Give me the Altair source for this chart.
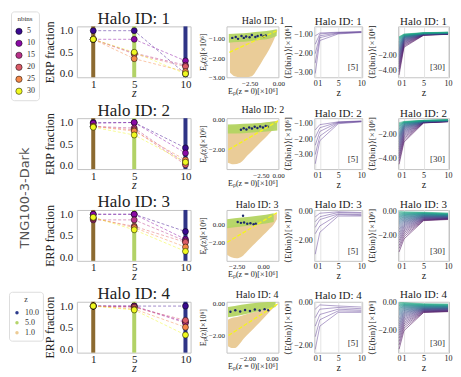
import altair as alt
import pandas as pd

SERIF = "Liberation Serif"

# ---------------- data ----------------
halo_ids = [1, 2, 3, 4]
z_snap = [1, 5, 10]
nbins_list = [5, 10, 15, 20, 25, 30]
z_legend = ["10.0", "5.0", "1.0"]
z_line = [0, 1, 5, 10]
label_left = "TNG100-3-Dark"

# ERP fraction per halo: one list per nbins, values at z = 1, 5, 10
erp_h1 = [[1.0, 1.0, 0.0], [0.8, 0.8, 0.30], [0.8, 0.48, 0.20], [0.8, 0.46, 0.17], [0.8, 0.35, 0.05], [0.8, 0.50, 0.0]]
erp_h2 = [[1.0, 1.0, 0.41], [0.98, 1.0, 0.29], [0.91, 0.87, 0.06], [0.91, 0.83, 0.02], [0.91, 0.80, 0.13], [0.89, 0.71, 0.08]]
erp_h3 = [[1.0, 1.0, 0.60], [1.0, 1.0, 0.42], [0.87, 0.87, 0.38], [0.90, 0.72, 0.35], [0.92, 0.69, 0.24], [0.93, 0.64, 0.14]]
erp_h4 = [[1.0, 1.0, 1.0], [1.0, 1.0, 0.63], [1.0, 0.99, 0.61], [1.0, 0.97, 0.67], [1.0, 0.93, 0.51], [1.0, 0.91, 0.33]]
erp_frac = [erp_h1, erp_h2, erp_h3, erp_h4]

# scatter clouds (z=1 tan cloud, z=5 green band) as lower/upper envelopes
tan_x = [[-4.2, -3.8, -3.3, -2.8, -2.3, -1.8, -1.3, -0.8, -0.35, -0.1],
         [-7.3, -6.5, -5.5, -4.5, -3.5, -2.5, -1.5, -0.6, -0.05],
         [-3.4, -3.0, -2.5, -2.0, -1.5, -1.0, -0.5, 0.0, 0.5, 1.0, 1.3],
         [-3.6, -3.3, -3.0, -2.7, -2.3, -1.8, -1.3, -0.8, -0.3, 0.2, 0.5]]
tan_lo = [[-2.75, -2.95, -3.0, -3.0, -2.95, -2.55, -2.05, -1.55, -1.0, -0.6],
          [-2.85, -2.95, -2.85, -2.4, -1.95, -1.5, -1.05, -0.6, -0.2],
          [-3.4, -3.7, -3.8, -3.6, -3.0, -2.4, -1.8, -1.2, -0.6, 0.0, 0.6],
          [-2.7, -2.8, -2.8, -2.6, -2.2, -1.8, -1.4, -1.0, -0.6, -0.2, 0.0]]
tan_hi = [[-1.15, -1.1, -1.05, -1.0, -0.95, -0.9, -0.85, -0.75, -0.6, -0.5],
          [-0.5, -0.45, -0.4, -0.35, -0.3, -0.25, -0.2, -0.15, -0.1],
          [-0.2, -0.1, 0.0, 0.1, 0.2, 0.4, 0.6, 0.8, 1.0, 1.2, 1.3],
          [-1.0, -0.9, -0.85, -0.8, -0.7, -0.6, -0.5, -0.4, -0.3, -0.1, 0.05]]
green_x = [[-4.3, -3.5, -2.5, -1.5, -0.6, -0.15],
           [-7.3, -5.0, -2.5, -0.1],
           [-3.4, -2.0, -0.5, 1.0],
           [-3.6, -2.5, -1.0, 0.3]]
green_lo = [[-1.2, -1.17, -1.12, -1.05, -0.95, -0.85],
            [-0.95, -0.92, -0.85, -0.75],
            [-0.4, -0.2, 0.0, 0.3],
            [-0.85, -0.7, -0.45, -0.2]]
green_hi = [[-0.75, -0.72, -0.68, -0.62, -0.55, -0.5],
            [-0.35, -0.3, -0.25, -0.15],
            [0.6, 0.8, 1.0, 1.3],
            [-0.2, -0.05, 0.1, 0.14]]
navy_x = [[-4.0, -3.7, -3.5, -3.2, -3.0, -2.8, -2.5, -2.3, -2.0, -1.8, -1.5, -1.3, -1.1],
          [-5.4, -5.0, -4.6, -4.2, -3.8, -3.4, -3.0, -2.6, -2.2, -1.8, -1.5],
          [-2.4, -2.1, -1.8, -1.5, -1.2, -0.9, -0.7, -1.9],
          [-3.4, -3.0, -2.6, -2.2, -1.8, -1.4, -1.0, -0.6, -0.3]]
navy_y = [[-0.95, -0.9, -1.0, -0.85, -0.95, -0.88, -0.92, -0.8, -0.9, -0.85, -0.8, -0.88, -0.82],
          [-0.7, -0.6, -0.68, -0.55, -0.62, -0.5, -0.58, -0.48, -0.55, -0.45, -0.5],
          [0.3, 0.2, 0.25, 0.1, 0.15, 0.05, 0.1, 1.0],
          [-0.5, -0.4, -0.48, -0.38, -0.45, -0.35, -0.42, -0.33, -0.4]]
fit_x = [[-4.25, -0.17], [-7.2, 0.0], [-3.4, 1.44], [-3.55, 0.53]]
fit_y = [[-1.7, -0.59], [-2.0, -0.12], [-2.0, 1.45], [-2.0, 0.02]]

# <E(bin)> with 5 bins: one list per bin, values at z = 0, 1, 5, 10
mean5 = [
    [[-3.05, -1.3, -0.95, -0.88], [-2.5, -1.15, -0.92, -0.86], [-2.0, -1.05, -0.9, -0.85], [-1.5, -0.95, -0.88, -0.84], [-1.05, -0.9, -0.86, -0.83]],
    [[-3.6, -2.1, -1.0, -0.88], [-3.0, -1.8, -0.95, -0.86], [-2.4, -1.5, -0.92, -0.85], [-1.9, -1.26, -0.9, -0.84], [-1.4, -1.06, -0.88, -0.82]],
    [[-3.0, -1.45, -0.3, -0.3], [-1.55, -1.0, -0.2, -0.25], [-1.1, -0.55, -0.15, -0.2], [-0.7, -0.35, -0.05, -0.1], [-0.36, -0.1, 0.0, -0.05]],
    [[-2.2, -1.1, -0.45, -0.45], [-1.6, -0.8, -0.38, -0.4], [-1.1, -0.55, -0.3, -0.35], [-0.7, -0.3, -0.22, -0.28], [-0.3, -0.1, -0.15, -0.2]],
]

# <E(bin)> with 30 bins: values of the 30 bins at z = 0, 1, 5, 10
m30_z0 = [
    [-4.5, -4.1, -3.75, -3.45, -3.15, -2.9, -2.65, -2.42, -2.2, -2.0, -1.8, -1.62, -1.45, -1.28, -1.12, -0.97, -0.83, -0.7, -0.57, -0.45, -0.34, -0.24, -0.14, -0.05, 0.03, 0.1, 0.17, 0.23, 0.28, 0.33],
    [-4.45, -4.2, -3.95, -3.75, -3.55, -3.35, -3.18, -3.02, -2.86, -2.72, -2.58, -2.45, -2.33, -2.22, -2.12, -2.02, -1.92, -1.83, -1.74, -1.65, -1.57, -1.5, -1.43, -1.36, -1.3, -1.24, -1.18, -1.12, -1.06, -0.98],
    [-3.4, -3.1, -2.85, -2.6, -2.4, -2.2, -2.02, -1.86, -1.72, -1.58, -1.46, -1.34, -1.23, -1.13, -1.03, -0.94, -0.85, -0.77, -0.69, -0.62, -0.55, -0.48, -0.42, -0.36, -0.3, -0.24, -0.18, -0.12, -0.06, 0.05],
    [-3.3, -3.0, -2.75, -2.52, -2.32, -2.14, -1.97, -1.81, -1.67, -1.54, -1.42, -1.3, -1.19, -1.09, -0.99, -0.9, -0.82, -0.74, -0.66, -0.59, -0.52, -0.46, -0.4, -0.34, -0.28, -0.23, -0.18, -0.13, -0.08, -0.02],
]
m30_z1 = [
    [-1.0, -0.85, -0.72, -0.6, -0.5, -0.4, -0.31, -0.23, -0.15, -0.08, -0.02, 0.04, 0.1, 0.15, 0.2, 0.24, 0.28, 0.32, 0.35, 0.38, 0.41, 0.44, 0.47, 0.5, 0.52, 0.55, 0.58, 0.61, 0.64, 0.68],
    [-2.6, -2.45, -2.3, -2.18, -2.06, -1.95, -1.85, -1.76, -1.68, -1.6, -1.53, -1.47, -1.41, -1.36, -1.31, -1.27, -1.23, -1.19, -1.15, -1.12, -1.09, -1.06, -1.03, -1.0, -0.98, -0.96, -0.94, -0.92, -0.9, -0.87],
    [-2.3, -2.1, -1.92, -1.76, -1.62, -1.5, -1.38, -1.27, -1.17, -1.08, -0.99, -0.91, -0.84, -0.77, -0.7, -0.64, -0.58, -0.52, -0.47, -0.42, -0.37, -0.32, -0.28, -0.24, -0.2, -0.16, -0.12, -0.08, -0.04, 0.0],
    [-2.0, -1.82, -1.66, -1.52, -1.4, -1.28, -1.18, -1.08, -0.99, -0.91, -0.83, -0.76, -0.7, -0.64, -0.58, -0.53, -0.48, -0.43, -0.39, -0.35, -0.31, -0.27, -0.24, -0.21, -0.18, -0.15, -0.12, -0.09, -0.06, -0.02],
]
m30_z5 = [
    [0.52, 0.54, 0.55, 0.57, 0.58, 0.6, 0.61, 0.62, 0.63, 0.64, 0.65, 0.66, 0.67, 0.68, 0.69, 0.7, 0.71, 0.72, 0.73, 0.74, 0.75, 0.76, 0.77, 0.78, 0.79, 0.8, 0.81, 0.82, 0.83, 0.85],
    [-1.0, -0.99, -0.98, -0.97, -0.96, -0.95, -0.94, -0.94, -0.93, -0.92, -0.91, -0.9, -0.9, -0.89, -0.88, -0.87, -0.87, -0.86, -0.85, -0.85, -0.84, -0.83, -0.83, -0.82, -0.81, -0.81, -0.8, -0.79, -0.79, -0.78],
    [-0.75, -0.72, -0.69, -0.66, -0.63, -0.6, -0.57, -0.54, -0.51, -0.48, -0.46, -0.43, -0.41, -0.38, -0.36, -0.34, -0.31, -0.29, -0.27, -0.25, -0.22, -0.2, -0.18, -0.16, -0.14, -0.12, -0.1, -0.08, -0.06, -0.03],
    [-0.72, -0.7, -0.67, -0.65, -0.62, -0.6, -0.58, -0.55, -0.53, -0.51, -0.49, -0.47, -0.45, -0.43, -0.41, -0.39, -0.37, -0.35, -0.33, -0.31, -0.29, -0.27, -0.25, -0.23, -0.21, -0.19, -0.17, -0.15, -0.13, -0.1],
]
m30_z10 = [
    [0.64, 0.65, 0.66, 0.67, 0.68, 0.69, 0.7, 0.71, 0.72, 0.73, 0.73, 0.74, 0.75, 0.76, 0.77, 0.78, 0.78, 0.79, 0.8, 0.81, 0.82, 0.83, 0.84, 0.85, 0.86, 0.87, 0.88, 0.89, 0.9, 0.92],
    [-0.9, -0.89, -0.88, -0.88, -0.87, -0.86, -0.86, -0.85, -0.84, -0.84, -0.83, -0.83, -0.82, -0.82, -0.81, -0.81, -0.8, -0.8, -0.79, -0.79, -0.78, -0.78, -0.77, -0.77, -0.76, -0.76, -0.75, -0.75, -0.74, -0.73],
    [-0.65, -0.62, -0.6, -0.58, -0.56, -0.54, -0.52, -0.5, -0.48, -0.46, -0.44, -0.42, -0.41, -0.39, -0.37, -0.36, -0.34, -0.32, -0.31, -0.29, -0.28, -0.26, -0.25, -0.23, -0.22, -0.2, -0.18, -0.16, -0.14, -0.1],
    [-0.66, -0.64, -0.62, -0.6, -0.58, -0.56, -0.54, -0.52, -0.5, -0.48, -0.46, -0.44, -0.43, -0.41, -0.39, -0.38, -0.36, -0.34, -0.33, -0.31, -0.3, -0.28, -0.26, -0.25, -0.23, -0.21, -0.19, -0.17, -0.15, -0.12],
]

# axis ranges and ticks per halo
sc_xdom = [[-4.5, 0.0], [-7.5, 0.05], [-3.46, 1.44], [-3.72, 0.53]]
sc_ydom = [[-3.0, -0.35], [-3.27, 0.06], [-4.1, 1.66], [-3.1, 0.14]]
sc_xticks = [[-2.5, 0.0], [-2.5, 0.0], [-2.5, 0.0], [-2.0, 0.0]]
sc_yticks = [[-1.0, -2.0, -3.0], [0.0, -2.0], [0.0, -2.0], [0.0, -2.0]]
m5_ydom = [[-3.25, -0.55], [-3.94, -0.64], [-3.47, 0.13], [-2.35, 0.05]]
m5_yticks = [[-1.0, -2.0, -3.0], [-1.0, -2.0, -3.0], [0.0, -2.0], [0.0, -2.0]]
m30_ydom = [[-4.8, 1.65], [-4.85, -0.6], [-4.16, 0.16], [-3.55, 0.04]]
m30_yticks = [[-2.0, -4.0], [-2.0, -4.0], [0.0, -2.0], [0.0, -2.0]]

# ---------------- styles ----------------
nb_colors = ["#3a0a90", "#8a0aa5", "#b83289", "#db5c68", "#f48849", "#f0f921"]
z_colors = ["#2b3a8c", "#b5d46a", "#eccb94"]
bar_colors = ["#8c6a30", "#b2d266", "#2f3486"]
tan_color = "#e9c992"
green_color = "#b3d462"
navy_color = "#1f2a6e"
fit_color = "#f4f41c"
purple = "#6a4c9c"

W0, W1, W2, W3, W4, H = 32, 114, 52, 48, 51, 51
ROW_GAP = 41


def title(k, size, offset, anchor="middle"):
    return alt.TitleParams(f"Halo ID: {halo_ids[k]}", fontSize=size, offset=offset, anchor=anchor)


def erp_panel(k):
    rows = [{"nbins": nb, "z": z, "frac": v}
            for nb, vals in zip(nbins_list, erp_frac[k]) for z, v in zip(z_snap, vals)]
    df = pd.DataFrame(rows)
    xs = alt.Scale(domain=[-0.6, 10.5], nice=False, zero=False)
    ys = alt.Scale(domain=[-0.08, 1.1], nice=False, zero=False)
    xax = alt.Axis(values=z_snap, title="z", titleFontStyle="italic", labelFontSize=11,
                   titleFontSize=12, ticks=False, labelPadding=1, titlePadding=-2)
    yax = alt.Axis(values=[0, 0.5, 1.0], format=".1f", title="ERP fraction", labelFontSize=11,
                   titleFontSize=12, ticks=False, labelPadding=4, titlePadding=3)
    bars = alt.Chart(pd.DataFrame({"z": z_snap, "c": bar_colors})).mark_rule(strokeWidth=4).encode(
        x=alt.X("z:Q", scale=xs, axis=xax), color=alt.Color("c:N", scale=None))
    col = alt.Color("nbins:O", scale=alt.Scale(domain=nbins_list, range=nb_colors), legend=None)
    lines = alt.Chart(df).mark_line(strokeWidth=0.8, opacity=0.6, strokeDash=[3, 2]).encode(
        x=alt.X("z:Q", scale=xs, axis=xax), y=alt.Y("frac:Q", scale=ys, axis=yax),
        color=col, detail="nbins:O")
    pts = alt.Chart(df).mark_point(filled=True, size=36, stroke="black", strokeWidth=0.5, opacity=1).encode(
        x=alt.X("z:Q", scale=xs, axis=xax), y=alt.Y("frac:Q", scale=ys, axis=yax), color=col)
    return alt.layer(bars, lines, pts).resolve_scale(color="independent").properties(
        width=W1, height=H, title=title(k, 17, -7))


def scatter_panel(k):
    xs = alt.Scale(domain=sc_xdom[k], nice=False, zero=False)
    ys = alt.Scale(domain=sc_ydom[k], nice=False, zero=False)
    xax = alt.Axis(values=sc_xticks[k], format=".2f", title="Eₚ(z = 0)[×10⁶]", labelFontSize=7,
                   titleFontSize=8, ticks=False, titlePadding=1, labelPadding=2)
    yax = alt.Axis(values=sc_yticks[k], format=".2f", title="Eₚ(z)[×10⁶]", labelFontSize=7,
                   titleFontSize=8, ticks=False, titlePadding=1, labelPadding=2)
    dtan = pd.DataFrame({"x": tan_x[k], "lo": tan_lo[k], "hi": tan_hi[k]})
    dgr = pd.DataFrame({"x": green_x[k], "lo": green_lo[k], "hi": green_hi[k]})
    dnv = pd.DataFrame({"x": navy_x[k], "y": navy_y[k]})
    dfit = pd.DataFrame({"x": fit_x[k], "y": fit_y[k]})
    tan = alt.Chart(dtan).mark_area(color=tan_color, opacity=0.95, clip=True, interpolate="monotone").encode(
        x=alt.X("x:Q", scale=xs, axis=xax), y=alt.Y("lo:Q", scale=ys, axis=yax), y2="hi:Q")
    gr = alt.Chart(dgr).mark_area(color=green_color, opacity=0.95, clip=True, interpolate="monotone").encode(
        x=alt.X("x:Q", scale=xs, axis=xax), y=alt.Y("lo:Q", scale=ys, axis=yax), y2="hi:Q")
    nv = alt.Chart(dnv).mark_circle(color=navy_color, size=6, opacity=1, clip=True).encode(
        x=alt.X("x:Q", scale=xs, axis=xax), y=alt.Y("y:Q", scale=ys, axis=yax))
    fit = alt.Chart(dfit).mark_line(color=fit_color, strokeWidth=1.3, strokeDash=[4, 2], clip=True).encode(
        x=alt.X("x:Q", scale=xs, axis=xax), y=alt.Y("y:Q", scale=ys, axis=yax))
    return alt.layer(tan, gr, nv, fit).properties(
        width=W2, height=H, title=title(k, 10, 0, "end"))


def mean_panel(k, nb):
    if nb == 5:
        rows = [{"bin": b + 1, "z": z, "E": v}
                for b, vals in enumerate(mean5[k]) for z, v in zip(z_line, vals)]
        color = alt.value(purple)
        ydom, yticks, w = m5_ydom[k], m5_yticks[k], W3
    else:
        cols = [m30_z0[k], m30_z1[k], m30_z5[k], m30_z10[k]]
        rows = [{"bin": b + 1, "z": z, "E": cols[j][b]}
                for b in range(30) for j, z in enumerate(z_line)]
        color = alt.Color("bin:Q", scale=alt.Scale(scheme="viridis", domain=[1, 48]), legend=None)
        ydom, yticks, w = m30_ydom[k], m30_yticks[k], W4
    df = pd.DataFrame(rows)
    xs = alt.Scale(domain=[-0.2, 10.2], nice=False, zero=False)
    ys = alt.Scale(domain=ydom, nice=False, zero=False)
    xax = alt.Axis(values=z_line, title="z", labelFontSize=8, titleFontSize=10, ticks=False,
                   labelOverlap=False, grid=True, gridColor="#e4e4e4",
                   titlePadding=0, labelPadding=2)
    yax = alt.Axis(values=yticks, format=".2f", title="⟨E(bin)⟩[×10⁶]", labelFontSize=8,
                   titleFontSize=9, ticks=False, titlePadding=1, labelPadding=2)
    lines = alt.Chart(df).mark_line(strokeWidth=0.7, opacity=0.75, clip=True).encode(
        x=alt.X("z:Q", scale=xs, axis=xax), y=alt.Y("E:Q", scale=ys, axis=yax),
        color=color, detail="bin:O")
    tag = alt.Chart(pd.DataFrame({"t": [f"[{nb}]"]})).mark_text(
        font=SERIF, fontSize=9, color="#333", align="right").encode(
        text="t:N", x=alt.value(w - 4), y=alt.value(H - 10))
    return alt.layer(lines, tag).properties(width=w, height=H, title=title(k, 11, -2))


# ---------------- left column: legends + label ----------------
leg_common = dict(orient="none", symbolOpacity=1, labelFont=SERIF, titleFont=SERIF,
                  titleFontWeight="normal", strokeColor="#dddddd", fillColor="white",
                  cornerRadius=3, titleAnchor="middle", labelColor="#333", titleColor="#333")
nb_leg = alt.Chart(pd.DataFrame({"nbins": nbins_list})).mark_point(filled=True, opacity=0).encode(
    color=alt.Color("nbins:O", scale=alt.Scale(domain=nbins_list, range=nb_colors),
                    legend=alt.Legend(title="nbins", legendX=2, legendY=-15, symbolSize=40,
                                      symbolType="circle", symbolStrokeColor="black",
                                      symbolStrokeWidth=0.5, labelFontSize=8, titleFontSize=7,
                                      rowPadding=2, padding=4, **leg_common)))
z_leg = alt.Chart(pd.DataFrame({"z": z_legend})).mark_point(filled=True, opacity=0).encode(
    color=alt.Color("z:N", scale=alt.Scale(domain=z_legend, range=z_colors),
                    legend=alt.Legend(title="z", legendX=0, legendY=266, symbolSize=12,
                                      symbolType="circle", symbolStrokeWidth=0,
                                      labelFontSize=8, titleFontSize=8,
                                      rowPadding=2, padding=4, **leg_common)))
tng = alt.Chart(pd.DataFrame({"t": [label_left]})).mark_text(
    angle=270, font="DejaVu Sans", fontSize=13, color="#555").encode(
    text="t:N", x=alt.value(16), y=alt.value(172))
left = alt.layer(nb_leg, z_leg, tng).resolve_scale(color="independent").properties(
    width=W0, height=H, view=alt.ViewBackground(strokeWidth=0))


def blank():
    return alt.Chart(pd.DataFrame({"a": [0]})).mark_point(opacity=0).properties(
        width=W0, height=H, view=alt.ViewBackground(strokeWidth=0))


cells = []
for k in range(4):
    cells.append(left if k == 0 else blank())
    cells += [erp_panel(k), scatter_panel(k), mean_panel(k, 5), mean_panel(k, 30)]

chart = alt.concat(*cells, columns=5, spacing={"row": ROW_GAP, "column": 36}, bounds="flush",
                   align="each").resolve_scale(color="independent").properties(
    padding={"left": 0, "top": 0, "right": 0, "bottom": 0}
).configure_view(stroke="#c4c4c4", strokeWidth=1).configure_axis(
    labelFont=SERIF, titleFont=SERIF, titleFontWeight="normal", labelColor="#222",
    titleColor="#222", domain=False, tickColor="#999", grid=False, labelFlush=False
).configure_title(font=SERIF, fontWeight="normal", color="#222")

chart.save("out.html", embed_options={"renderer": "svg", "actions": False})
